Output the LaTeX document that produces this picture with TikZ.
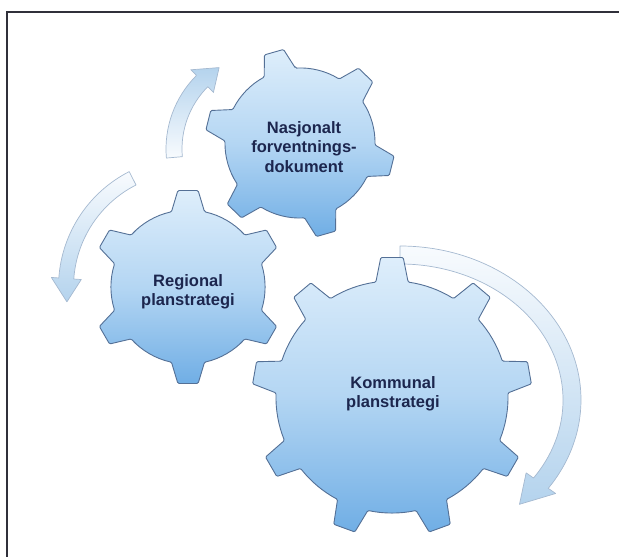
\documentclass[tikz,border=0pt]{standalone}
\usepackage{fontspec}
\setmainfont{Liberation Sans}
\usepackage{tikz}
\usetikzlibrary{shadings}
\definecolor{gearlight}{RGB}{222,238,251}
\definecolor{gearmid}{RGB}{180,214,243}
\definecolor{geardark}{RGB}{112,174,229}
\definecolor{gearline}{RGB}{84,112,150}
\definecolor{arrowlight}{RGB}{248,251,254}
\definecolor{arrowblue}{RGB}{180,211,237}
\definecolor{arrowline}{RGB}{165,185,208}
\definecolor{labelnavy}{RGB}{28,38,78}
\definecolor{framegrey}{RGB}{48,48,58}

% gear: centre, teeth, first tooth angle, inner r, outer r, half angle at base, half angle at tip
\newcommand{\gear}[7]{%
  \begin{scope}[shift={#1}]
    \shadedraw[gearbody] ({#3-#6}:#4)
      \foreach \i [evaluate=\i as \ang using #3+(\i-1)*360/#2] in {1,...,#2} {
        -- ({\ang-#7}:#5) -- ({\ang+#7}:#5) -- ({\ang+#6}:#4)
        arc[start angle=\ang+#6, end angle=\ang+360/#2-#6, radius=#4]
      } -- cycle;
  \end{scope}}

% bent arrow: centre, x radius, y radius, half width, tail angle, head angle, tip angle, shading
\newcommand{\bendarrow}[8]{%
  \begin{scope}[shift={#1}]
    \pgfmathsetmacro\rxo{#2+#4}\pgfmathsetmacro\ryo{#3+#4}
    \pgfmathsetmacro\rxi{#2-#4}\pgfmathsetmacro\ryi{#3-#4}
    \pgfmathsetmacro\rxf{#2+2*#4}\pgfmathsetmacro\ryf{#3+2*#4}
    \pgfmathsetmacro\rxg{#2-2*#4}\pgfmathsetmacro\ryg{#3-2*#4}
    \shadedraw[arrowband,#8] (#5:\rxo\space and \ryo)
      arc[start angle=#5, end angle=#6, x radius=\rxo, y radius=\ryo]
      -- (#6:\rxf\space and \ryf) -- (#7:#2 and #3) -- (#6:\rxg\space and \ryg)
      -- (#6:\rxi\space and \ryi)
      arc[start angle=#6, end angle=#5, x radius=\rxi, y radius=\ryi] -- cycle;
  \end{scope}}

\begin{document}
\begin{tikzpicture}[
    x=1pt, y=1pt,
    gearbody/.style={draw=gearline, line width=0.9pt, rounded corners=1.2pt,
      top color=gearlight, bottom color=geardark, middle color=gearmid},
    arrowband/.style={draw=arrowline, line width=0.7pt, line join=round},
    gearlabel/.style={font=\fontsize{16.5}{19.5}\selectfont\bfseries, text=labelnavy, align=center, inner sep=1pt},
    frameline/.style={draw=framegrey, line width=2.6pt}
]
\useasboundingbox (0,0) rectangle (619,557);
% frame
\draw[frameline] (7,0) -- (7,545) -- (619,545);

% turning arrows
\bendarrow{(270,408)}{96}{96}{8}{185}{135}{122}{top color=arrowblue, bottom color=arrowlight}
\bendarrow{(188,270)}{122}{122}{7.5}{117}{176}{187}{top color=arrowlight, bottom color=arrowblue}
\bendarrow{(400,157)}{172}{145}{9}{90}{-35}{-46}{top color=arrowlight, bottom color=arrowblue}

% gears
\gear{(300,414)}{6}{106}{75}{95}{12.5}{6}
\gear{(188,270)}{6}{90}{77}{97}{12.4}{6}
\gear{(392,160)}{9}{90}{116}{140}{8}{4.6}

% labels
\node[gearlabel] at (304,410) (nasj) {Nasjonalt\\forventnings-\\dokument};
\node[gearlabel] at (188,265) (reg)  {Regional\\planstrategi};
\node[gearlabel] at (393,163) (komm) {Kommunal\\planstrategi};
\end{tikzpicture}
\end{document}
